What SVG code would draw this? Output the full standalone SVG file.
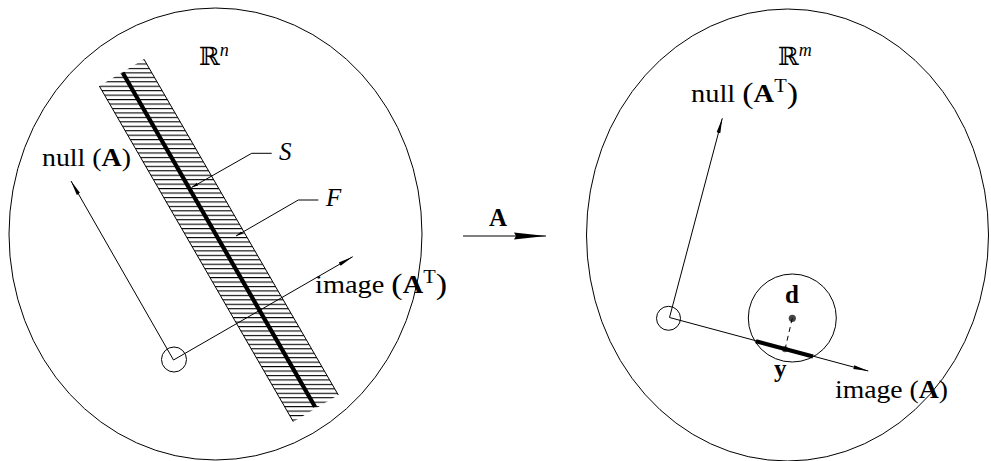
<svg xmlns="http://www.w3.org/2000/svg" width="991" height="461" viewBox="0 0 991 461">
<style>
.ln{fill:none;stroke:#000;stroke-width:1}
.t{font-family:"Liberation Serif",serif;font-size:25px;fill:#000}
.b{font-weight:bold}
.i{font-style:italic}
.bb{font-family:"DejaVu Serif","DejaVu Sans",serif;font-size:25px}
.sup{font-size:18px}
</style>
<defs>
<marker id="ah" markerUnits="userSpaceOnUse" markerWidth="16" markerHeight="6" refX="15" refY="3" orient="auto" viewBox="0 0 16 6"><path d="M0,1.1 L15,3 L0,4.9 z" fill="#000"/></marker>
<marker id="sm" markerUnits="userSpaceOnUse" markerWidth="8" markerHeight="4" refX="7" refY="2" orient="auto" viewBox="0 0 8 4"><path d="M0,0.5 L7,2 L0,3.5 z" fill="#000"/></marker>
<marker id="big" markerUnits="userSpaceOnUse" markerWidth="33" markerHeight="8" refX="32" refY="4" orient="auto" viewBox="0 0 33 8"><path d="M0,0.4 L32,4 L0,7.6 L2,4 z" fill="#000"/></marker>
<pattern id="hatch" patternUnits="userSpaceOnUse" x="0" y="59" width="20" height="4.45"><rect x="0" y="0" width="20" height="1.1" fill="#000"/></pattern>
<clipPath id="bandclip"><polygon points="99.3,86 144,59.3 338.3,395 293.3,421.7"/></clipPath>
</defs>

<g id="space-Rn">
<ellipse class="ln" cx="215.5" cy="234" rx="206.5" ry="226"/>
<text class="t" x="199" y="65"><tspan class="bb">ℝ</tspan><tspan class="sup i" dy="-9">n</tspan></text>
</g>

<g id="band-F">
<rect x="90" y="55" width="260" height="370" fill="url(#hatch)" clip-path="url(#bandclip)"/>
<line class="ln" x1="99.3" y1="86" x2="293.3" y2="421.7"/>
<line class="ln" x1="144" y1="59.3" x2="338.3" y2="395"/>
<text class="t i" x="326" y="206">F</text>
</g>

<g id="set-S">
<line x1="122.7" y1="72.7" x2="315" y2="406.7" stroke="#000" stroke-width="4.2"/>
<text class="t i" x="279" y="160">S</text>
</g>

<g id="origin-Rn">
<circle class="ln" cx="174" cy="359.5" r="12.5"/>
</g>

<g id="label-nullA">
<text class="t" x="42" y="166" textLength="89" lengthAdjust="spacingAndGlyphs">null (<tspan class="b">A</tspan>)</text>
</g>
<g id="label-imageAT">
<text class="t" x="315" y="293" textLength="132" lengthAdjust="spacingAndGlyphs">image <tspan font-size="30" dy="1">(</tspan><tspan class="b" dy="-1">A</tspan><tspan class="sup" dy="-10">T</tspan><tspan font-size="30" dy="11">)</tspan></text>
</g>

<g id="space-Rm">
<ellipse class="ln" cx="787.5" cy="235" rx="201" ry="226"/>
<text class="t" x="778" y="65"><tspan class="bb">ℝ</tspan><tspan class="sup i" dy="-9">m</tspan></text>
</g>

<g id="origin-Rm">
<circle class="ln" cx="668.5" cy="318.3" r="12"/>
</g>

<g id="label-nullAT">
<text class="t" x="691" y="102" textLength="107" lengthAdjust="spacingAndGlyphs">null <tspan font-size="30" dy="1">(</tspan><tspan class="b" dy="-1">A</tspan><tspan class="sup" dy="-10">T</tspan><tspan font-size="30" dy="11">)</tspan></text>
</g>
<g id="label-imageA">
<text class="t" x="835" y="398" textLength="113" lengthAdjust="spacingAndGlyphs">image (<tspan class="b">A</tspan>)</text>
</g>

<g id="ball-d">
<circle class="ln" cx="792.3" cy="318" r="44"/>
<circle cx="792.3" cy="318.3" r="3.6" fill="#444"/>
<text class="t b" x="785" y="303">d</text>
</g>

<g id="point-y">
<circle cx="785" cy="349.3" r="3" fill="#555"/>
<line x1="756" y1="341.2" x2="813" y2="356.5" stroke="#000" stroke-width="4.2"/>
<text class="t b" x="774" y="377">y</text>
</g>

<g id="map-A">
<text class="t b" x="489" y="226">A</text>
</g>

<g id="connectors">
<line class="ln" x1="173.5" y1="360" x2="71" y2="181" marker-end="url(#ah)"/>
<line class="ln" x1="173.5" y1="360" x2="352.7" y2="256.7" marker-end="url(#ah)"/>
<polyline class="ln" points="271.7,153.3 251.7,153.3 191.5,187.5" marker-end="url(#sm)"/>
<polyline class="ln" points="318.3,200 298.3,200 236,236" marker-end="url(#sm)"/>
<line class="ln" x1="463" y1="236" x2="546" y2="236" marker-end="url(#big)"/>
<line class="ln" x1="669.5" y1="317.5" x2="722.3" y2="118.3" marker-end="url(#ah)"/>
<line class="ln" x1="669.5" y1="317.5" x2="868.3" y2="371" marker-end="url(#ah)"/>
<line class="ln" x1="792.3" y1="318.3" x2="785" y2="349.3" stroke-dasharray="5,4"/>
</g>
</svg>
